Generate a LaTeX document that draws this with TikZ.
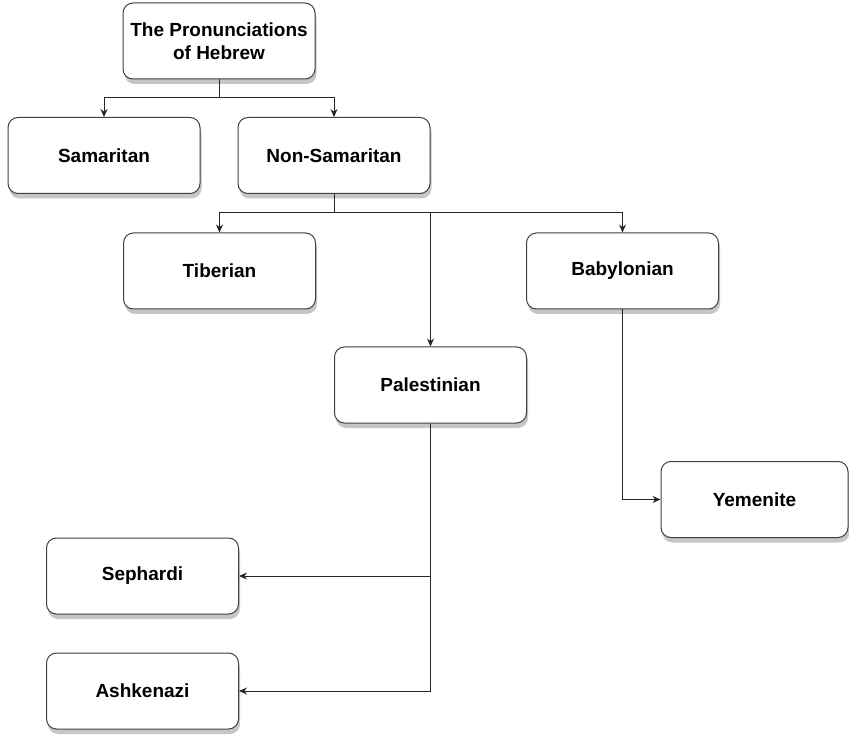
\documentclass[tikz,border=0pt]{standalone}
\usepackage{fontspec}
\setmainfont{Liberation Sans}
\usetikzlibrary{arrows.meta,shadows}
\begin{document}
\begin{tikzpicture}[x=1pt,y=-1pt,
  box/.style={draw=black!75, line width=1pt, rounded corners=10pt, fill=white,
    minimum width=192pt, minimum height=76pt, inner sep=2pt, align=center,
    font=\fontsize{19}{23}\selectfont\bfseries,
    drop shadow={shadow xshift=1.5pt, shadow yshift=-5pt, opacity=0.28, fill=black!80}},
  conn/.style={draw=black!85, line width=1pt},
  arr/.style={conn, -{Stealth[length=8pt,width=7pt]}}]
\useasboundingbox (0,0) rectangle (849,735);
\node[box] (top) at (219,41) {The Pronunciations\\of Hebrew};
\node[box] (sam) at (104,155.5) {Samaritan};
\node[box] (non) at (334,155.5) {Non-Samaritan};
\node[box] (tib) at (219.5,271) {Tiberian};
\node[box] (bab) at (622.5,271) {Babylonian};
\node[box] (pal) at (430.5,385) {Palestinian};
\node[box, minimum width=187pt] (yem) at (754.5,499.5) {Yemenite};
\node[box] (sep) at (142.5,576) {Sephardi};
\node[box] (ash) at (142.5,691) {Ashkenazi};
\coordinate (j1) at (219,98);
\coordinate (j2) at (334,213);
\draw[conn] (top.south) -- (j1);
\draw[arr] (j1) -| (sam.north);
\draw[arr] (j1) -| (non.north);
\draw[conn] (non.south) -- (j2);
\draw[arr] (j2) -| (tib.north);
\draw[arr] (j2) -| (bab.north);
\draw[arr] (j2 -| pal.north) -- (pal.north);
\draw[arr] (bab.south) |- (yem.west);
\draw[arr] (pal.south) |- (ash.east);
\draw[arr] (pal.south |- sep.east) -- (sep.east);
\end{tikzpicture}
\end{document}
